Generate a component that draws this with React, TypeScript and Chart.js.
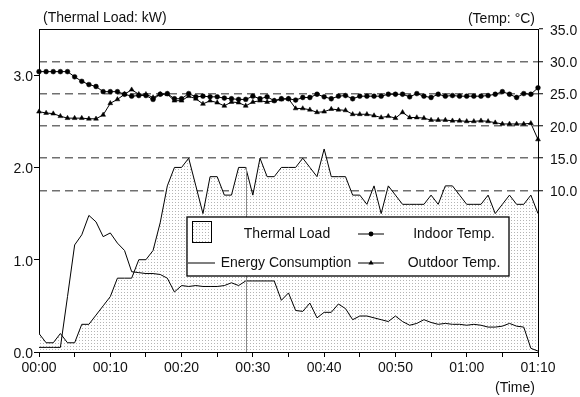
import React, { useEffect, useRef } from 'react';
import { Chart, registerables } from 'chart.js';

Chart.register(...registerables);

// Elapsed time in minutes
const minutes = [
  0, 1, 2, 3, 4, 5, 6, 7, 8, 9,
  10, 11, 12, 13, 14, 15, 16, 17, 18, 19,
  20, 21, 22, 23, 24, 25, 26, 27, 28, 29,
  30, 31, 32, 33, 34, 35, 36, 37, 38, 39,
  40, 41, 42, 43, 44, 45, 46, 47, 48, 49,
  50, 51, 52, 53, 54, 55, 56, 57, 58, 59,
  60, 61, 62, 63, 64, 65, 66, 67, 68, 69,
  70,
];

const xTickLabels = ['00:00', '00:10', '00:20', '00:30', '00:40', '00:50', '01:00', '01:10'];
const loadTicks = [0, 1, 2, 3];
const tempTicks = [10, 15, 20, 25, 30, 35];

// kW
const thermalLoad = [
  0.2, 0.1, 0.1, 0.2, 0.1, 0.1, 0.3, 0.3, 0.4, 0.5,
  0.6, 0.8, 0.8, 0.8, 1.0, 1.0, 1.1, 1.4, 1.8, 2.0,
  2.0, 2.1, 1.8, 1.5, 1.9, 1.9, 1.7, 1.7, 2.0, 2.0,
  1.7, 2.1, 1.9, 1.9, 2.0, 2.0, 2.0, 2.1, 2.0, 1.9,
  2.2, 1.9, 1.9, 1.9, 1.7, 1.7, 1.6, 1.8, 1.5, 1.8,
  1.7, 1.6, 1.6, 1.6, 1.6, 1.7, 1.6, 1.8, 1.8, 1.7,
  1.6, 1.6, 1.6, 1.7, 1.5, 1.6, 1.7, 1.6, 1.6, 1.7,
  1.5,
];

// kW
const energyConsumption = [
  0.05, 0.05, 0.05, 0.05, 0.6, 1.16, 1.27, 1.48, 1.41, 1.25,
  1.29, 1.18, 1.1, 0.87, 0.86, 0.85, 0.85, 0.84, 0.8, 0.65,
  0.72, 0.71, 0.72, 0.71, 0.71, 0.71, 0.72, 0.75, 0.72, 0.77,
  0.77, 0.77, 0.77, 0.77, 0.56, 0.64, 0.45, 0.44, 0.53, 0.37,
  0.43, 0.43, 0.52, 0.47, 0.35, 0.39, 0.39, 0.37, 0.35, 0.33,
  0.39, 0.33, 0.29, 0.31, 0.35, 0.32, 0.3, 0.31, 0.3, 0.3,
  0.29, 0.3, 0.29, 0.27, 0.27, 0.28, 0.31, 0.28, 0.27, 0.04,
  0.01,
];

// °C
const indoorTemp = [
  28.4, 28.4, 28.4, 28.4, 28.4, 27.6, 26.9, 26.4, 26.1, 25.3,
  25.3, 25.3, 24.9, 24.6, 24.7, 24.7, 24.1, 24.9, 25.0, 24.2,
  24.2, 25.0, 24.5, 24.6, 24.5, 24.5, 24.3, 24.2, 24.1, 24.1,
  24.6, 24.2, 24.5, 23.9, 24.2, 24.2, 24.0, 24.4, 24.4, 24.9,
  24.5, 24.2, 24.6, 24.7, 24.2, 24.6, 24.6, 24.6, 24.6, 24.9,
  24.9, 24.9, 24.5, 25.0, 24.6, 24.4, 24.9, 24.6, 24.7, 24.6,
  24.6, 24.6, 24.6, 24.7, 24.9, 25.3, 24.9, 24.4, 25.0, 24.9,
  25.9,
];

// °C
const outdoorTemp = [
  22.2, 22.0, 21.9, 21.5, 21.2, 21.2, 21.2, 21.1, 21.1, 21.7,
  23.5, 24.1, 24.9, 25.6, 24.9, 24.9, 24.4, 24.9, 24.9, 23.9,
  23.9, 24.6, 24.2, 23.4, 23.9, 23.6, 23.1, 23.7, 23.6, 23.1,
  23.7, 23.9, 23.7, 23.9, 24.1, 24.2, 22.7, 22.7, 22.5, 22.1,
  22.2, 22.6, 22.5, 22.4, 21.8, 21.8, 21.8, 21.6, 21.3, 21.5,
  21.2, 22.1, 21.3, 21.3, 21.2, 20.9, 20.9, 20.9, 20.8, 20.8,
  20.7, 20.7, 20.8, 20.7, 20.5, 20.3, 20.3, 20.3, 20.3, 20.4,
  17.9,
];

// minute at which a drop line is drawn under the load curve
const markedMinute = 29;

const FONT = '"Liberation Sans", Arial, sans-serif';
const TEXT = '#111';

function makeDotPattern(ctx: CanvasRenderingContext2D): CanvasPattern | string {
  const c = document.createElement('canvas');
  c.width = 3;
  c.height = 3;
  const g = c.getContext('2d');
  if (!g) return '#eee';
  g.fillStyle = '#fff';
  g.fillRect(0, 0, 3, 3);
  g.fillStyle = '#b4b4b4';
  g.fillRect(1, 1, 1, 1);
  return ctx.createPattern(c, 'repeat') || '#eee';
}

function drawTriangle(ctx: CanvasRenderingContext2D, x: number, y: number, r: number) {
  ctx.beginPath();
  ctx.moveTo(x, y - r);
  ctx.lineTo(x + r * 0.866, y + r * 0.5);
  ctx.lineTo(x - r * 0.866, y + r * 0.5);
  ctx.closePath();
  ctx.fill();
}

export default function App() {
  const canvasRef = useRef<HTMLCanvasElement | null>(null);

  useEffect(() => {
    const canvas = canvasRef.current;
    if (!canvas) return;
    const ctx = canvas.getContext('2d');
    if (!ctx) return;
    const pattern = makeDotPattern(ctx);

    const decor = {
      id: 'decor',
      afterDatasetsDraw(chart: any) {
        const c = chart.ctx as CanvasRenderingContext2D;
        const ca = chart.chartArea;
        const xs = chart.scales.x;
        const ys = chart.scales.y;

        // drop line
        const idx = minutes.indexOf(markedMinute);
        c.save();
        c.strokeStyle = '#8a8a8a';
        c.lineWidth = 1;
        const dx = Math.round(xs.getPixelForValue(markedMinute)) + 0.5;
        c.beginPath();
        c.moveTo(dx, ys.getPixelForValue(0));
        c.lineTo(dx, ys.getPixelForValue(thermalLoad[idx]));
        c.stroke();
        c.restore();

        // top frame line
        c.save();
        c.strokeStyle = '#000';
        c.lineWidth = 1;
        c.beginPath();
        c.moveTo(ca.left, ca.top + 0.5);
        c.lineTo(ca.right, ca.top + 0.5);
        c.stroke();
        c.restore();

        // legend box
        const L = ca.left + 148;
        const T = ca.top + 188;
        const W = 322;
        const H = 59;
        c.save();
        c.fillStyle = '#fff';
        c.fillRect(L, T, W, H);
        c.strokeStyle = '#000';
        c.lineWidth = 1.3;
        c.strokeRect(L, T, W, H);

        c.fillStyle = pattern as any;
        c.fillRect(L + 5, T + 4, 19, 21);
        c.lineWidth = 1;
        c.strokeRect(L + 5.5, T + 4.5, 19, 21);

        c.font = `14px ${FONT}`;
        c.fillStyle = TEXT;
        c.textAlign = 'center';
        c.textBaseline = 'middle';
        const r1 = T + 17;
        const r2 = T + 46;
        c.fillText('Thermal Load', L + 100, r1);
        c.fillText('Indoor Temp.', L + 267, r1);
        c.fillText('Energy Consumption', L + 99, r2);
        c.fillText('Outdoor Temp.', L + 267, r2);

        c.strokeStyle = '#000';
        c.lineWidth = 1.2;
        c.beginPath();
        c.moveTo(L + 171, r1);
        c.lineTo(L + 197, r1);
        c.moveTo(L + 1, r2);
        c.lineTo(L + 28, r2);
        c.moveTo(L + 171, r2);
        c.lineTo(L + 197, r2);
        c.stroke();
        c.fillStyle = '#000';
        c.beginPath();
        c.arc(L + 184, r1, 2.4, 0, Math.PI * 2);
        c.fill();
        drawTriangle(c, L + 184, r2, 3);
        c.restore();
      },
      afterDraw(chart: any) {
        const c = chart.ctx as CanvasRenderingContext2D;
        const ca = chart.chartArea;
        c.save();
        c.font = `14px ${FONT}`;
        c.fillStyle = TEXT;
        c.textBaseline = 'middle';
        c.textAlign = 'left';
        c.fillText('(Thermal Load: kW)', ca.left + 4, 18);
        c.textAlign = 'right';
        c.fillText('(Temp: °C)', ca.right - 3, 19);
        c.textAlign = 'center';
        c.fillText('(Time)', ca.right - 23, 388);
        c.restore();
      },
    };

    const tickFont = { family: FONT, size: 14 };

    const chart = new Chart(ctx, {
      type: 'line',
      data: {
        datasets: [
          {
            label: 'Thermal Load',
            data: minutes.map((m, i) => ({ x: m, y: thermalLoad[i] })),
            yAxisID: 'y',
            borderColor: '#000',
            borderWidth: 1,
            pointRadius: 0,
            fill: 'origin',
            backgroundColor: pattern as any,
            tension: 0,
            order: 3,
          },
          {
            label: 'Energy Consumption',
            data: minutes.map((m, i) => ({ x: m, y: energyConsumption[i] })),
            yAxisID: 'y',
            borderColor: '#000',
            borderWidth: 1,
            pointRadius: 0,
            fill: false,
            tension: 0,
            order: 2,
          },
          {
            label: 'Outdoor Temp.',
            data: minutes.map((m, i) => ({ x: m, y: outdoorTemp[i] })),
            yAxisID: 'y1',
            borderColor: '#000',
            borderWidth: 1,
            pointStyle: 'triangle',
            pointRadius: 2.8,
            pointBackgroundColor: '#000',
            pointBorderColor: '#000',
            pointBorderWidth: 0.5,
            fill: false,
            tension: 0,
            clip: false as any,
            order: 1,
          },
          {
            label: 'Indoor Temp.',
            data: minutes.map((m, i) => ({ x: m, y: indoorTemp[i] })),
            yAxisID: 'y1',
            borderColor: '#000',
            borderWidth: 1,
            pointStyle: 'circle',
            pointRadius: 2.4,
            pointBackgroundColor: '#000',
            pointBorderColor: '#000',
            pointBorderWidth: 0.5,
            fill: false,
            tension: 0,
            clip: false as any,
            order: 0,
          },
        ],
      },
      options: {
        animation: false,
        responsive: false,
        events: [],
        layout: { padding: { top: 29, left: 0, right: 0, bottom: 0 } },
        plugins: {
          legend: { display: false },
          tooltip: { enabled: false },
        },
        scales: {
          x: {
            type: 'linear',
            min: 0,
            max: 70,
            ticks: {
              stepSize: 5,
              autoSkip: false,
              maxRotation: 0,
              padding: 3,
              font: tickFont,
              color: TEXT,
              callback: (v: any) => (Number(v) % 10 === 0 ? xTickLabels[Number(v) / 10] : ''),
            },
            grid: {
              drawOnChartArea: false,
              drawTicks: true,
              tickLength: 5,
              tickColor: '#000',
              tickWidth: 1,
            },
            border: { color: '#000', width: 1 },
            afterFit: (s: any) => {
              s.height = 45;
            },
          },
          y: {
            position: 'left',
            min: 0,
            max: 3.5,
            afterBuildTicks: (s: any) => {
              s.ticks = loadTicks.map((v) => ({ value: v }));
            },
            ticks: {
              padding: 1,
              labelOffset: 2,
              font: tickFont,
              color: TEXT,
              callback: (v: any) => Number(v).toFixed(1),
            },
            grid: {
              drawOnChartArea: false,
              drawTicks: true,
              tickLength: 5,
              tickColor: '#000',
              tickWidth: 1,
            },
            border: { color: '#000', width: 1 },
            afterFit: (s: any) => {
              s.width = 39;
            },
          },
          y1: {
            position: 'right',
            min: -15,
            max: 35,
            afterBuildTicks: (s: any) => {
              s.ticks = tempTicks.map((v) => ({ value: v }));
            },
            ticks: {
              padding: 7,
              labelOffset: 2,
              font: tickFont,
              color: TEXT,
              callback: (v: any) => Number(v).toFixed(1),
            },
            grid: {
              drawOnChartArea: true,
              drawTicks: true,
              tickLength: 5,
              tickColor: '#000',
              tickWidth: 1,
              lineWidth: 1.5,
              color: (c: any) => (c.tick && c.tick.value === 35 ? 'rgba(0,0,0,0)' : '#707070'),
            },
            border: { color: '#000', width: 1, dash: [8, 5] },
            afterFit: (s: any) => {
              s.width = 42;
            },
          },
        },
      },
      plugins: [decor],
    } as any);

    return () => {
      chart.destroy();
    };
  }, []);

  return (
    <div style={{ position: 'fixed', left: 0, top: 0, width: 580, height: 397, background: '#fff' }}>
      <canvas ref={canvasRef} width={580} height={397} style={{ display: 'block' }} />
    </div>
  );
}
